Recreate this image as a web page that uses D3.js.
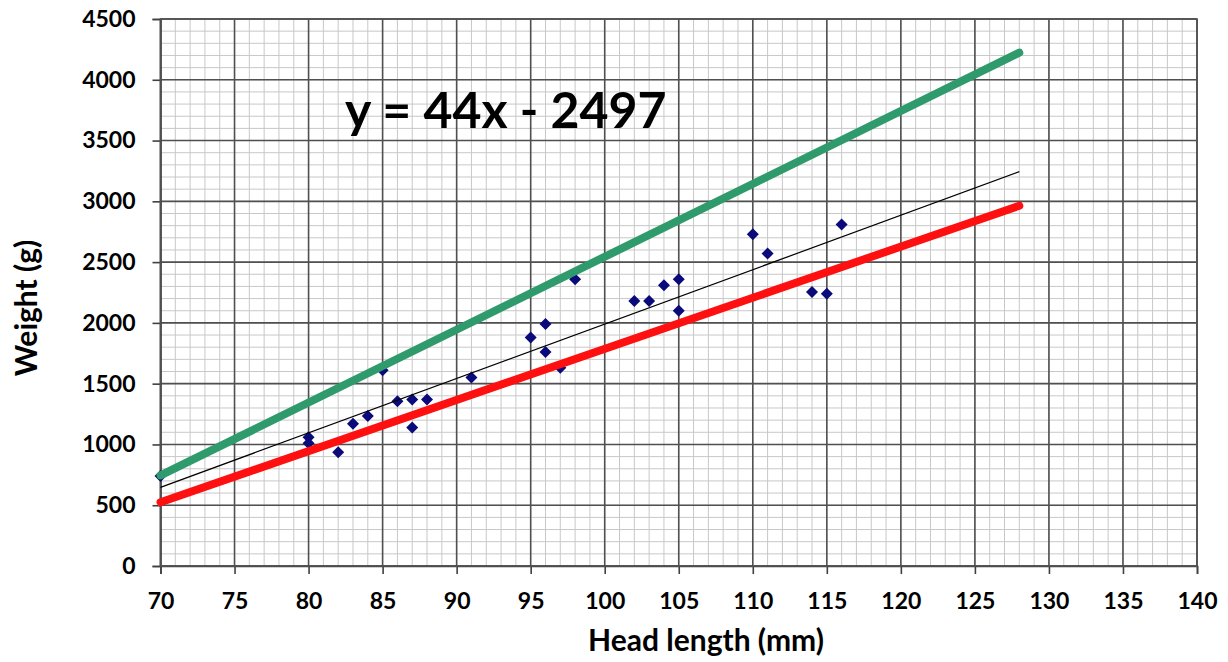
<!DOCTYPE html>
<html>
<head>
<meta charset="utf-8">
<script src="https://cdn.jsdelivr.net/npm/d3@7/dist/d3.min.js"></script>
<style>
  body { margin: 0; background: #fff; }
  text { font-family: Lato, "Open Sans", sans-serif; font-weight: bold; fill: #000; }
</style>
</head>
<body>
<svg id="chart" width="1228" height="662"></svg>
<script>
// Data
const headLength = [70, 80, 80, 82, 83, 84, 85, 86, 87, 87, 88, 91, 95, 96, 96, 97, 98,
  102, 103, 104, 105, 105, 110, 111, 114, 115, 116];
const weight = [740, 1060, 1010, 935, 1170, 1235, 1610, 1355, 1370, 1140, 1370, 1550, 1880,
  1990, 1760, 1630, 2360, 2180, 2180, 2310, 2360, 2100, 2730, 2570, 2255, 2240, 2810];

// fitted line and the two hand drawn bounds (end points)
const trendLine = [[70, 647], [128, 3244]];
const upperLine = [[70, 745], [128, 4223]];
const lowerLine = [[70, 524], [128, 2964]];

const xTicks = [70, 75, 80, 85, 90, 95, 100, 105, 110, 115, 120, 125, 130, 135, 140];
const yTicks = [0, 500, 1000, 1500, 2000, 2500, 3000, 3500, 4000, 4500];
const equationLabel = "y = 44x - 2497";

// Plot area
const plotLeft = 160.5, plotRight = 1197, plotTop = 19, plotBottom = 566;

const svg = d3.select("#chart");

const x = d3.scaleLinear().domain([70, 140]).range([plotLeft, plotRight]);
const y = d3.scaleLinear().domain([0, 4500]).range([plotBottom, plotTop]);

// minor grid (1 mm / 100 g)
const grid = svg.append("g");
grid.selectAll(".vminor")
  .data(d3.range(70, 141, 1))
  .enter().append("line")
    .attr("x1", d => x(d)).attr("x2", d => x(d))
    .attr("y1", plotTop).attr("y2", plotBottom)
    .attr("stroke", "#c8c8c8").attr("stroke-width", 1);
grid.selectAll(".hminor")
  .data(d3.range(0, 4501, 100))
  .enter().append("line")
    .attr("x1", plotLeft).attr("x2", plotRight)
    .attr("y1", d => y(d)).attr("y2", d => y(d))
    .attr("stroke", "#c8c8c8").attr("stroke-width", 1);

// major grid
grid.selectAll(".vmajor")
  .data(xTicks)
  .enter().append("line")
    .attr("x1", d => x(d)).attr("x2", d => x(d))
    .attr("y1", plotTop).attr("y2", plotBottom)
    .attr("stroke", "#505050").attr("stroke-width", 1.6);
grid.selectAll(".hmajor")
  .data(yTicks)
  .enter().append("line")
    .attr("x1", plotLeft).attr("x2", plotRight)
    .attr("y1", d => y(d)).attr("y2", d => y(d))
    .attr("stroke", "#505050").attr("stroke-width", 1.6);

// axes
const xAxis = svg.append("g")
  .attr("transform", `translate(0,${plotBottom})`)
  .call(d3.axisBottom(x).tickValues(xTicks).tickFormat(d3.format("d")).tickSize(8));
xAxis.select(".domain").attr("stroke", "#404040").attr("stroke-width", 1.6);
xAxis.selectAll(".tick line").attr("stroke", "#404040").attr("stroke-width", 1.6);
xAxis.selectAll("text")
  .attr("dy", null).attr("y", 43)
  .style("font-size", "23px")
  .style("font-family", "Lato, sans-serif").style("font-weight", "bold").attr("fill", "#000");

const yAxis = svg.append("g")
  .attr("transform", `translate(${plotLeft},0)`)
  .call(d3.axisLeft(y).tickValues(yTicks).tickFormat(d3.format("d")).tickSize(8).tickPadding(17));
yAxis.select(".domain").attr("stroke", "#404040").attr("stroke-width", 1.6);
yAxis.selectAll(".tick line").attr("stroke", "#404040").attr("stroke-width", 1.6);
yAxis.selectAll("text")
  .style("font-size", "23px")
  .style("font-family", "Lato, sans-serif").style("font-weight", "bold").attr("fill", "#000");

// outer border of the plot
svg.append("rect")
  .attr("x", plotLeft).attr("y", plotTop)
  .attr("width", plotRight - plotLeft).attr("height", plotBottom - plotTop)
  .attr("fill", "none").attr("stroke", "#505050").attr("stroke-width", 1.6);

// data points (diamonds)
const diamond = d3.symbol().type(d3.symbolSquare).size(72);
svg.append("g").selectAll("path")
  .data(headLength.map((h, i) => [h, weight[i]]))
  .enter().append("path")
    .attr("d", diamond)
    .attr("transform", d => `translate(${x(d[0])},${y(d[1])}) rotate(45)`)
    .attr("fill", "#0a0a7a");

// lines
const line = d3.line().x(d => x(d[0])).y(d => y(d[1]));
svg.append("path").datum(trendLine)
  .attr("d", line).attr("fill", "none")
  .attr("stroke", "#000").attr("stroke-width", 1.2);
svg.append("path").datum(upperLine)
  .attr("d", line).attr("fill", "none")
  .attr("stroke", "#2f9a6c").attr("stroke-width", 8).attr("stroke-linecap", "round");
svg.append("path").datum(lowerLine)
  .attr("d", line).attr("fill", "none")
  .attr("stroke", "#ff1010").attr("stroke-width", 8).attr("stroke-linecap", "round");

// equation
svg.append("text")
  .attr("x", 345).attr("y", 128)
  .style("font-size", "50px")
  .text(equationLabel);

// axis titles
svg.append("text")
  .attr("x", 706).attr("y", 651)
  .attr("text-anchor", "middle")
  .style("font-size", "30px")
  .text("Head length (mm)");

svg.append("text")
  .attr("transform", "translate(37,308) rotate(-90)")
  .attr("text-anchor", "middle")
  .style("font-size", "30px")
  .text("Weight (g)");
</script>
</body>
</html>
